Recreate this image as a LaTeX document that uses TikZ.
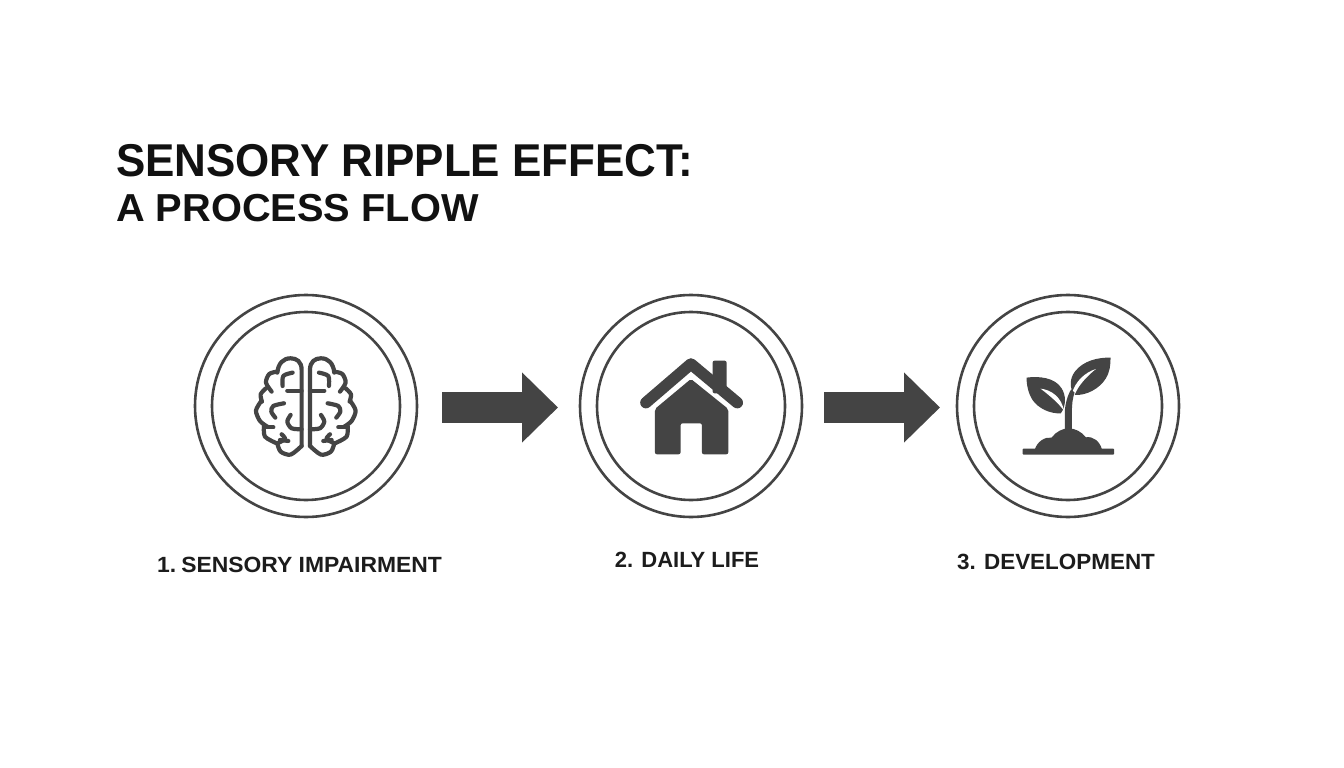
\documentclass[tikz,border=0pt]{standalone}
\usepackage{fontspec}
\setmainfont{Liberation Sans}
\usetikzlibrary{arrows.meta}
\definecolor{ink}{HTML}{444444}
\definecolor{titleink}{HTML}{111111}
\definecolor{labelink}{HTML}{1C1C1C}
\tikzset{
 ring/.style={circle,draw=ink,line width=2.6pt,minimum size=222pt,inner sep=0pt,outer sep=0pt},
 innerring/.style={circle,draw=ink,line width=2.6pt,minimum size=188pt,inner sep=0pt,outer sep=0pt},
 flow/.style={draw=ink,line width=31pt,-{Triangle[length=36pt,width=68pt,fill=ink]}},
 titletext/.style={font=\bfseries\fontsize{46}{50}\selectfont,text=titleink,anchor=base west,inner sep=0pt},
 subtitletext/.style={font=\bfseries\fontsize{39}{44}\selectfont,text=titleink,anchor=base west,inner sep=0pt},
 steplabel/.style={font=\bfseries\fontsize{22}{26}\selectfont,text=labelink,anchor=base,inner sep=0pt},
 brainline/.style={draw=ink,line width=4.2pt,line cap=round,line join=round}
}
\begin{document}
\begin{tikzpicture}[x=1pt,y=-1pt]
\useasboundingbox[fill=white] (0,0) rectangle (1344,768);
\node[titletext,xscale=0.955] (t1) at (116,176) {SENSORY RIPPLE EFFECT:};
\node[subtitletext,xscale=1.02] (t2) at (116,221) {A PROCESS FLOW};
\node[ring] (c1) at (306,406) {};
\node[ring] (c2) at (691,406) {};
\node[ring] (c3) at (1068,406) {};
\node[innerring] (i1) at (306,406) {};
\node[innerring] (i2) at (691,406) {};
\node[innerring] (i3) at (1068,406) {};
\draw[flow,shorten <=25pt,shorten >=22pt] ([yshift=-1.5pt]c1.east) -- ([yshift=-1.5pt]c2.west);
\draw[flow,shorten <=22pt,shorten >=17pt] ([yshift=-1.5pt]c2.east) -- ([yshift=-1.5pt]c3.west);
\node[steplabel,xscale=1.04] (l1) at (299.5,572) {1.\hspace{5pt}SENSORY IMPAIRMENT};
\node[steplabel] (l2) at (687,567) {2. DAILY LIFE};
\node[steplabel,xscale=1.02] (l3) at (1056,569) {3. DEVELOPMENT};
% brain
\begin{scope}[x=0.3333pt,y=-0.3333pt,shift={(690,1020)}]
\foreach \m/\o in {1/0,-1/-455}{
\begin{scope}[xscale=\m,xshift=\o*0.3333pt]
\draw[brainline] (215,318) -- (215,90) .. controls (215,65) and (200,55) .. (182,55) .. controls (160,55) and (145,70) .. (142,98);
\draw[brainline] plot[smooth] coordinates {(142,95) (118,102) (108,128) (125,155)};
\draw[brainline] plot[smooth] coordinates {(108,145) (92,163) (96,185)};
\draw[brainline] plot[smooth] coordinates {(94,183) (78,212) (90,243) (112,260)};
\draw[brainline] plot[smooth] coordinates {(102,258) (105,290) (140,310)};
\draw[brainline] plot[smooth] coordinates {(142,310) (152,335) (182,344) (215,318)};
\draw[brainline] plot[smooth] coordinates {(188,98) (160,108) (158,138)};
\draw[brainline] (172,152) -- (215,152);
\draw[brainline] plot[smooth] coordinates {(162,190) (130,198) (124,215) (136,233)};
\draw[brainline] plot[smooth] coordinates {(182,225) (172,245) (185,265) (215,268)};
\draw[brainline] (102,262) -- (130,262);
\draw[brainline] plot[smooth] coordinates {(155,283) (165,297) (142,310)};
\draw[brainline] (150,300) -- (175,303);
\end{scope}}
\end{scope}
% house
\begin{scope}[x=0.3333pt,y=-0.3333pt,shift={(1860,1020)}]
\fill[ink,rounded corners=2pt] (278,160) -- (278,62) -- (320,62) -- (320,160) -- cycle;
\draw[ink,line width=11.5pt,line cap=round,line join=round] (78,188) -- (213,72) -- (352,188);
\fill[ink,rounded corners=2pt] (105,207) -- (213,117) -- (325,207) -- (325,343) -- (246,343) -- (246,250) -- (182,250) -- (182,343) -- (105,343) -- cycle;
\end{scope}
% plant
\begin{scope}[x=0.3333pt,y=-0.3333pt,shift={(3000,1020)}]
\fill[ink,rounded corners=1pt] (68,326) rectangle (343,344);
\fill[ink] (105,328) .. controls (112,305) and (135,290) .. (155,293) .. controls (168,275) and (190,265) .. (205,265) .. controls (225,265) and (245,275) .. (258,292) .. controls (280,288) and (300,305) .. (306,328) -- cycle;
\fill[ink] (80,113) .. controls (115,108) and (165,112) .. (185,145) .. controls (198,165) and (200,195) .. (183,220) .. controls (150,222) and (115,205) .. (98,180) .. controls (85,160) and (80,135) .. (80,113) -- cycle;
\fill[white] (122,146) .. controls (155,150) and (185,172) .. (192,212) .. controls (175,188) and (148,166) .. (122,146) -- cycle;
\fill[ink] (332,53) .. controls (295,52) and (250,62) .. (225,95) .. controls (210,115) and (208,140) .. (222,165) .. controls (260,168) and (300,145) .. (318,115) .. controls (330,95) and (332,75) .. (332,53) -- cycle;
\fill[white] (288,87) .. controls (255,98) and (228,122) .. (216,160) -- (224,165) .. controls (236,135) and (260,110) .. (288,87) -- cycle;
\fill[ink] (195,270) -- (195,215) .. controls (195,195) and (203,165) .. (214,148) -- (224,158) .. controls (218,175) and (216,195) .. (216,215) -- (216,270) -- cycle;
\end{scope}
\end{tikzpicture}
\end{document}
